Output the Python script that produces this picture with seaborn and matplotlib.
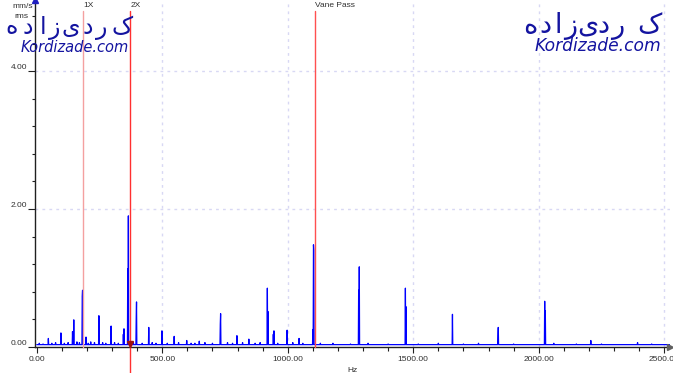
import numpy as np
import pandas as pd
import matplotlib
matplotlib.use("Agg")
import matplotlib.pyplot as plt
import seaborn as sns
from matplotlib.ticker import MultipleLocator, FixedLocator, FixedFormatter

# ---------------- data ----------------
peak_hz = [46, 96, 143, 147, 181, 183, 196, 248, 296, 345, 347, 362, 365, 396, 398,
           446, 499, 547, 598, 647, 731, 733, 797, 845, 919, 921, 943, 945, 997, 1045,
           1100, 1102, 1104, 1283, 1285, 1469, 1471, 1656, 1838, 1839, 2024, 2026,
           2207, 2331, 2394]
peak_amp = [0.12, 0.20, 0.22, 0.39, 0.73, 0.82, 0.14, 0.45, 0.30, 0.18, 0.26, 1.13, 1.90, 0.42, 0.65,
            0.28, 0.23, 0.15, 0.09, 0.08, 0.33, 0.48, 0.16, 0.11, 0.85, 0.51, 0.18, 0.23, 0.24, 0.12,
            0.25, 1.48, 1.40, 0.82, 1.16, 0.85, 0.58, 0.47, 0.15, 0.28, 0.66, 0.52,
            0.09, 0.03, 0.06]
noise_hz = [10, 25, 60, 75, 110, 125, 160, 170, 205, 215, 230, 262, 275, 310, 325, 385,
            420, 460, 475, 520, 565, 615, 630, 670, 700, 760, 780, 820, 870, 890, 960,
            1020, 1060, 1130, 1180, 1250, 1320, 1400, 1520, 1600, 1700, 1760, 1900,
            2060, 2150, 2250, 2450]
noise_amp = [0.05, 0.04, 0.05, 0.06, 0.05, 0.06, 0.07, 0.06, 0.05, 0.07, 0.06, 0.06, 0.05, 0.06, 0.05, 0.06,
             0.05, 0.06, 0.05, 0.05, 0.06, 0.05, 0.05, 0.06, 0.05, 0.06, 0.05, 0.06, 0.05, 0.06, 0.05,
             0.06, 0.05, 0.05, 0.05, 0.04, 0.05, 0.04, 0.04, 0.05, 0.04, 0.05, 0.04,
             0.05, 0.04, 0.04, 0.04]
floor_level = 0.03
bin_width = 1.25
max_hz = 2522

marker_names = ["1X", "2X", "Vane Pass"]
marker_hz = [186, 372, 1110]
marker_colors = ["#F4A0A0", "#FF3030", "#FF5050"]

x_major = [0, 500, 1000, 1500, 2000, 2500]
x_labels = ["0.00", "500.00", "1000.00", "1500.00", "2000.00", "2500.00"]
y_major = [0, 2, 4]
y_labels = ["0.00", "2.00", "4.00"]

# watermark letters (visual left-to-right order) and their pixel centres
logo_letters = ["ه", "د", "ا", "ز", "ی", "د", "ر", "ک"]
logo_left_x = [12, 28, 43, 55, 71, 88, 102, 122]
logo_right_x = [530, 545, 558, 571, 588, 603, 618, 649]

# ---------------- build spectrum table ----------------
hz = np.arange(0, max_hz, bin_width)
amp = np.full(hz.shape, floor_level)
for f, a in list(zip(noise_hz, noise_amp)) + list(zip(peak_hz, peak_amp)):
    i = int(round(f / bin_width))
    amp[i] = max(amp[i], a)
df = pd.DataFrame({"Hz": hz, "amp": amp})

# ---------------- figure ----------------
sns.set_style("white")
plt.rcParams["font.family"] = ["Liberation Sans", "DejaVu Sans"]

W, H = 673, 373
fig = plt.figure(figsize=(W / 100, H / 100), dpi=100)
ax_left, ax_right, ax_bottom, ax_top = 35, 670, 373 - 346.7, 373
ax = fig.add_axes([ax_left / W, ax_bottom / H, (ax_right - ax_left) / W, (ax_top - ax_bottom) / H])

sns.lineplot(data=df, x="Hz", y="amp", ax=ax, color="#0000FF", lw=0.9,
             estimator=None, sort=False, zorder=3)

ax.set_xlim(-7, 2523)
ax.set_ylim(0, 5.035)

# grid
for gx in x_major[1:]:
    ax.axvline(gx, color="#D8D8F4", lw=1.0, ls=(0, (2, 3)), zorder=1)
for gy in y_major[1:]:
    ax.axhline(gy, color="#D8D8F4", lw=1.0, ls=(0, (2, 3)), zorder=1)

# spines
for s in ["top", "right"]:
    ax.spines[s].set_visible(False)
for s in ["left", "bottom"]:
    ax.spines[s].set_color("#202020")
    ax.spines[s].set_linewidth(1.0)

# ticks
ax.xaxis.set_major_locator(FixedLocator(x_major))
ax.xaxis.set_major_formatter(FixedFormatter(x_labels))
ax.xaxis.set_minor_locator(MultipleLocator(100))
ax.yaxis.set_major_locator(FixedLocator(y_major))
ax.yaxis.set_major_formatter(FixedFormatter(y_labels))
ax.yaxis.set_minor_locator(MultipleLocator(0.4))
ax.tick_params(axis="x", which="major", length=4, width=0.8, color="#202020",
               labelsize=6, labelcolor="#303030", pad=3, direction="out", bottom=True)
ax.tick_params(axis="x", which="minor", length=3, width=0.8, color="#202020", bottom=True)
ax.tick_params(axis="y", which="major", length=5, width=0.8, color="#202020",
               labelsize=6, labelcolor="#303030", pad=0.5, direction="out", left=True)
ax.tick_params(axis="y", which="minor", length=2.5, width=0.8, color="#202020", left=True)
for lbl in ax.get_yticklabels():
    lbl.set_va("bottom")

ax.set_xlabel("Hz", fontsize=6, color="#303030")
ax.xaxis.set_label_coords((352 - ax_left) / (ax_right - ax_left), -20 / 346.7)
ax.xaxis.label.set_va("top")
ax.set_ylabel("")

# axis arrows
ax.plot([1.0], [0], marker=">", ms=4, color="#606060", transform=ax.transAxes, clip_on=False, zorder=5)
ax.plot([0], [1.0], marker="^", ms=4, color="#2020C0", transform=ax.transAxes, clip_on=False, zorder=5)

# units
fig.text(33 / W, 1 - 7 / H, "mm/s", fontsize=6, color="#303030", ha="right", va="center")
fig.text(21 / W, 1 - 16 / H, "rms", fontsize=6, color="#303030", ha="center", va="center")

# marker lines
ytop_frac = (346.7 - 11) / 346.7
for name, f, c in zip(marker_names, marker_hz, marker_colors):
    ymin = -26.3 / 346.7 if name == "2X" else 0
    ax.axvline(f, ymin=ymin, ymax=ytop_frac, color=c, lw=1.0, zorder=4, clip_on=False)
    ax.text(f, 5.035 - 2 / 68.85, name, fontsize=6, color="#303030", ha="left", va="top", zorder=6)
ax.plot([marker_hz[1]], [0.04], marker="v", ms=4, color="#A01010", zorder=6, clip_on=False)

# watermarks
wm_color = "#1414A0"
for ch, xl, xr in zip(logo_letters, logo_left_x, logo_right_x):
    fig.text(xl / W, 1 - 34 / H, ch, fontsize=17, color=wm_color, ha="center", va="baseline",
             family=["DejaVu Sans"], zorder=10)
    fig.text(xr / W, 1 - 33 / H, ch, fontsize=19.5, color=wm_color, ha="center", va="baseline",
             family=["DejaVu Sans"], zorder=10)
fig.text(75 / W, 1 - 48 / H, "Kordizade.com", fontsize=10.5, style="italic", color=wm_color,
         ha="center", va="center", family=["DejaVu Sans"], zorder=10)
fig.text(598 / W, 1 - 46 / H, "Kordizade.com", fontsize=12.3, style="italic", color=wm_color,
         ha="center", va="center", family=["DejaVu Sans"], zorder=10)

fig.savefig("out.png", dpi=100)
